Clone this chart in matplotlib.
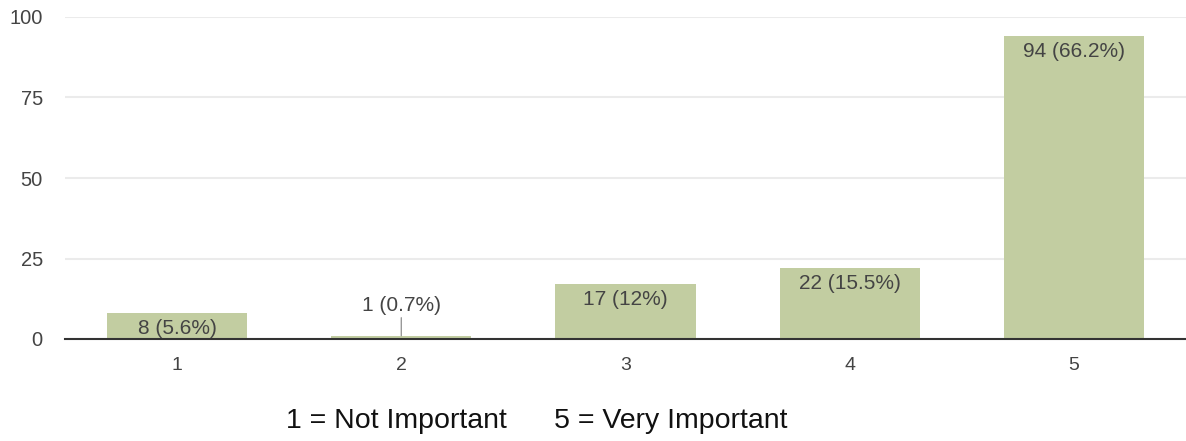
import matplotlib
matplotlib.use("Agg")
import matplotlib.pyplot as plt
from matplotlib import font_manager

categories = ["1", "2", "3", "4", "5"]
counts = [8, 1, 17, 22, 94]
percents = ["5.6%", "0.7%", "12%", "15.5%", "66.2%"]
yticks = [0, 25, 50, 75, 100]
title_text = "1 = Not Important      5 = Very Important"

names = {f.name for f in font_manager.fontManager.ttflist}
narrow = "Liberation Sans Narrow" if "Liberation Sans Narrow" in names else "Liberation Sans"

plt.rcParams['font.family'] = ['Liberation Sans', 'DejaVu Sans']

fig = plt.figure(figsize=(11.86, 4.41), dpi=100)
ax = fig.add_axes([65/1186, 1-339/441, 1-65/1186, (339-17)/441])

x = list(range(len(categories)))
bars = ax.bar(x, counts, width=0.625, color="#c2cda1", zorder=2)

ax.set_xlim(-0.5, 4.5)
ax.set_ylim(0, 100)
ax.set_yticks(yticks)
ax.set_yticklabels([str(v) for v in yticks], fontsize=14.5, color="#444444")
ax.set_xticks(x)
ax.set_xticklabels(categories, fontsize=14, color="#444444", family=narrow)
ax.tick_params(axis='y', length=0, pad=16)
ax.tick_params(axis='x', length=0, pad=13)
ax.grid(axis='y', color="#ebebeb", linewidth=1.5, zorder=0)
for s in ["top", "right", "left"]:
    ax.spines[s].set_visible(False)
ax.spines["bottom"].set_color("#333333")
ax.spines["bottom"].set_linewidth(1.5)
ax.spines["bottom"].set_zorder(3)

for xi, c, p in zip(x, counts, percents):
    label = f"{c} ({p})"
    if c >= 5:
        ax.annotate(label, (xi, c), xytext=(0, -4), textcoords="offset points",
                    ha="center", va="top", fontsize=15, color="#444444", zorder=4)
    else:
        ax.annotate(label, (xi, c), xytext=(0, 15), textcoords="offset points",
                    ha="center", va="bottom", fontsize=15, color="#444444",
                    arrowprops=dict(arrowstyle="-", color="#999999", lw=1,
                                    shrinkA=0, shrinkB=0), zorder=4)

fig.text(537/1186, 1-421/441, title_text, ha="center", va="center",
         fontsize=20.5, color="#111111", family=narrow)

fig.savefig("out.png", dpi=100)
